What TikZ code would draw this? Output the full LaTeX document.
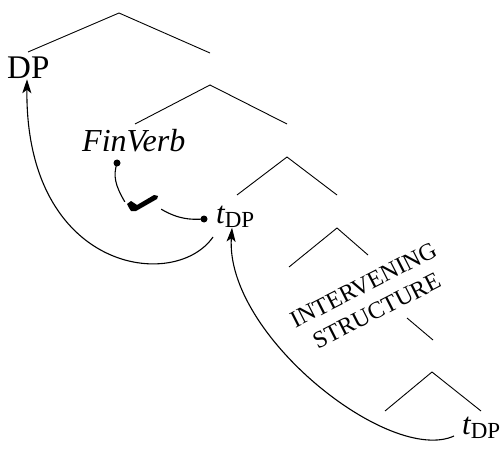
\documentclass[tikz,border=0pt]{standalone}
\usepackage{fontspec}
\setmainfont{Liberation Serif}
\usetikzlibrary{arrows.meta}
\tikzset{
  branch/.style={line width=0.9pt},
  lbl/.style={inner sep=0pt, anchor=base west},
  mover/.style={line width=1.1pt, -{Stealth[length=14pt,width=9pt,inset=3.5pt]}},
  link/.style={line width=1.1pt},
  dotm/.style={circle, fill=black, inner sep=0pt, minimum size=7pt},
}
\newcommand{\tdp}{{\fontsize{31}{32}\selectfont\itshape t}\raisebox{-4.5pt}{\fontsize{23}{24}\selectfont DP}}
\begin{document}
\begin{tikzpicture}[x=1pt,y=-1pt]
\useasboundingbox (0,0) rectangle (500,449);
% tree skeleton
\coordinate (a1) at (119,13); \coordinate (a1l) at (28,52); \coordinate (a1r) at (210,53);
\coordinate (a2) at (210,85); \coordinate (a2l) at (135,124); \coordinate (a2r) at (287,124);
\coordinate (a3) at (287,157); \coordinate (a3l) at (237,195); \coordinate (a3r) at (337,195);
\coordinate (a4) at (337,228); \coordinate (a4l) at (289,267); \coordinate (a4r) at (368,255);
\coordinate (f1) at (407,318); \coordinate (f2) at (433,340);
\coordinate (a5) at (432,372); \coordinate (a5l) at (385,411); \coordinate (a5r) at (481,411);
\draw[branch] (a1l) -- (a1) -- (a1r);
\draw[branch] (a2l) -- (a2) -- (a2r);
\draw[branch] (a3l) -- (a3) -- (a3r);
\draw[branch] (a4l) -- (a4) -- (a4r);
\draw[branch] (f1) -- (f2);
\draw[branch] (a5l) -- (a5) -- (a5r);
% labels
\node[lbl, font=\fontsize{33}{36}\selectfont] (dp) at (7,79) {DP};
\node[lbl, font=\fontsize{32}{36}\selectfont\itshape] (fin) at (82,152) {FinVerb};
\node[lbl] (t1) at (216,223) {\tdp};
\node[lbl] (t2) at (462,434) {\tdp};
\node[rotate=27, align=center, inner sep=0pt, font=\fontsize{24}{29}\selectfont] (iv) at (370,298) {INTERVENING\\STRUCTURE};
% dots
\node[dotm] (d1) at (117,163) {};
\node[dotm] (d2) at (204,219) {};
% check mark
\node[inner sep=0pt, minimum width=30pt, minimum height=14pt] (chk) at (143,204) {};
\fill[line join=round] (127,204) -- (131,201) -- (137,205) -- (154,195) -- (158,196) -- (157,199) -- (136,211) -- (131,211) -- (129,208) -- cycle;
% connectors
\draw[link] (d1.center) .. controls (113,176) and (115,185) .. ([shift={(-3pt,-5pt)}]chk.north west);
\draw[link] ([shift={(3pt,2pt)}]chk.south east) .. controls (178,219) and (190,220) .. (d2.center);
\draw[mover] (213,237) .. controls (175,292) and (25,272) .. (dp.south -| 27,0);
\draw[mover] (454,436) .. controls (390,465) and (225,335) .. (t1.south -| 232,0);
\end{tikzpicture}
\end{document}
